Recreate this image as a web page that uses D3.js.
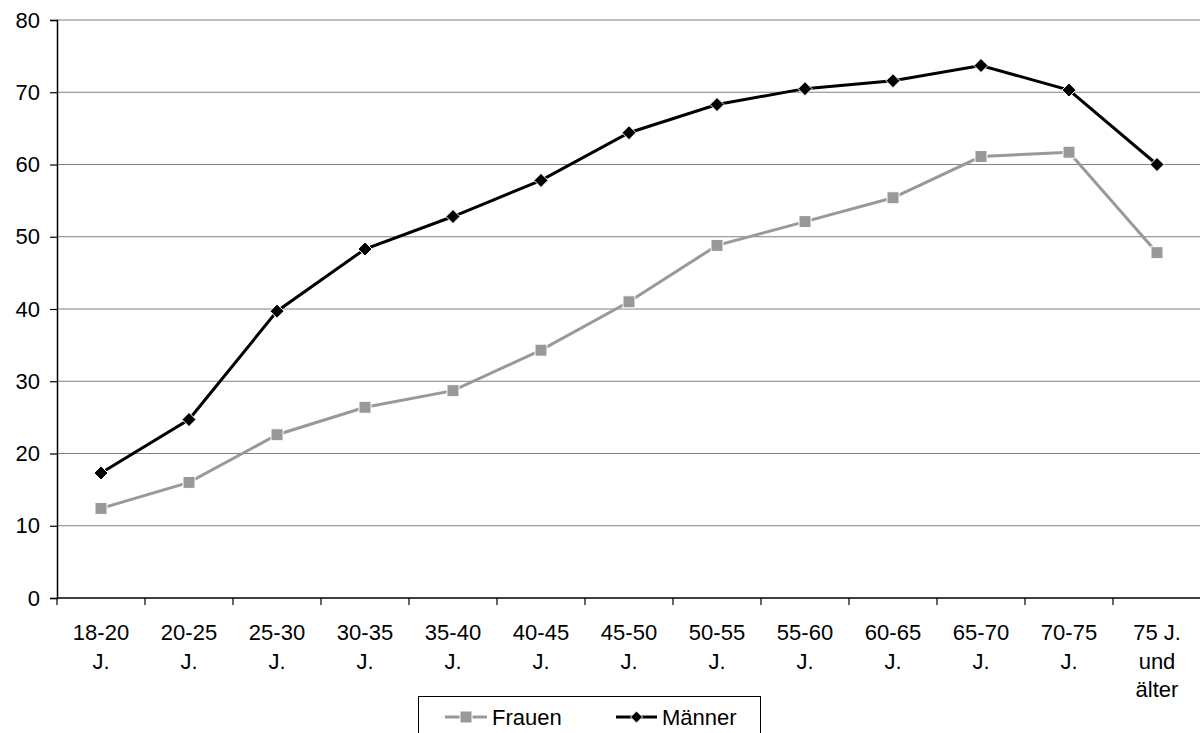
<!DOCTYPE html>
<html lang="de">
<head>
<meta charset="UTF-8">
<title>Chart</title>
<script src="https://d3js.org/d3.v7.min.js"></script>
<style>
  body { margin: 0; background: #fff; }
  text { font-family: "Liberation Sans", Arial, sans-serif; fill: #000; }
</style>
</head>
<body>
<script>
// Kategorien (Altersgruppen), mehrzeilige Beschriftung
var categories = ["18-20 J.", "20-25 J.", "25-30 J.", "30-35 J.", "35-40 J.", "40-45 J.",
                  "45-50 J.", "50-55 J.", "55-60 J.", "60-65 J.", "65-70 J.", "70-75 J.", "75 J. und älter"];
var labelLines = [["18-20","J."],["20-25","J."],["25-30","J."],["30-35","J."],["35-40","J."],["40-45","J."],
                  ["45-50","J."],["50-55","J."],["55-60","J."],["60-65","J."],["65-70","J."],["70-75","J."],["75 J.","und","älter"]];
var frauen = [12.4, 16.0, 22.6, 26.4, 28.7, 34.3, 41.0, 48.8, 52.1, 55.4, 61.1, 61.7, 47.8];
var maenner = [17.3, 24.7, 39.7, 48.3, 52.8, 57.8, 64.4, 68.3, 70.5, 71.6, 73.7, 70.3, 60.0];
var yTicks = [0, 10, 20, 30, 40, 50, 60, 70, 80];

var width = 1200, height = 733;
var mLeft = 57, mRight = 1201, mTop = 20, mBottom = 598;
var fs = "22px";

var svg = d3.select("body").append("svg").attr("width", width).attr("height", height);

var x = d3.scaleBand().domain(categories).range([mLeft, mRight]);
var y = d3.scaleLinear().domain([0, 80]).range([mBottom, mTop]);

// Gitterlinien
svg.append("g").selectAll("line").data(yTicks.filter(function(d){ return d > 0; }))
  .enter().append("line")
  .attr("x1", mLeft).attr("x2", mRight)
  .attr("y1", function(d){ return y(d); }).attr("y2", function(d){ return y(d); })
  .attr("stroke", "#808080").attr("stroke-width", 1.2);

// y-Achse
var yAxis = svg.append("g").attr("transform", "translate(" + mLeft + ",0)")
  .call(d3.axisLeft(y).tickValues(yTicks).tickSize(7).tickPadding(10));
yAxis.select(".domain").attr("stroke", "#000").attr("stroke-width", 1.5);
yAxis.selectAll(".tick line").attr("stroke", "#000").attr("stroke-width", 1.2);
yAxis.selectAll("text").attr("font-size", fs).attr("font-family", "Liberation Sans, Arial, sans-serif");

// x-Achse
var xg = svg.append("g");
xg.append("line").attr("x1", mLeft).attr("x2", mRight).attr("y1", mBottom).attr("y2", mBottom)
  .attr("stroke", "#000").attr("stroke-width", 1.5);
var boundaries = categories.map(function(c){ return x(c); });
xg.selectAll(".xt").data(boundaries).enter().append("line")
  .attr("x1", function(d){ return d; }).attr("x2", function(d){ return d; })
  .attr("y1", mBottom).attr("y2", mBottom + 7)
  .attr("stroke", "#000").attr("stroke-width", 1.2);

var labels = xg.selectAll(".xl").data(categories).enter().append("text")
  .attr("text-anchor", "middle")
  .attr("font-size", fs)
  .attr("x", function(d){ return x(d) + x.bandwidth() / 2; })
  .attr("y", mBottom + 42);
labels.each(function(d, i) {
  var t = d3.select(this);
  labelLines[i].forEach(function(line, j) {
    t.append("tspan").attr("x", x(d) + x.bandwidth() / 2).attr("dy", j === 0 ? 0 : 28.5).text(line);
  });
});

var cx = function(d, i){ return x(categories[i]) + x.bandwidth() / 2; };
var line = d3.line().x(function(d, i){ return cx(d, i); }).y(function(d){ return y(d); });

// Frauen
svg.append("path").datum(frauen).attr("d", line)
  .attr("fill", "none").attr("stroke", "#999999").attr("stroke-width", 3);
svg.append("g").selectAll("rect").data(frauen).enter().append("rect")
  .attr("x", function(d, i){ return cx(d, i) - 6; })
  .attr("y", function(d){ return y(d) - 6; })
  .attr("width", 12).attr("height", 12)
  .attr("fill", "#999999").attr("stroke", "#fff").attr("stroke-width", 1);

// Männer
svg.append("path").datum(maenner).attr("d", line)
  .attr("fill", "none").attr("stroke", "#000").attr("stroke-width", 3);
svg.append("g").selectAll("path").data(maenner).enter().append("path")
  .attr("d", "M0,-7 L7,0 L0,7 L-7,0 Z")
  .attr("transform", function(d, i){ return "translate(" + cx(d, i) + "," + y(d) + ")"; })
  .attr("fill", "#000").attr("stroke", "#fff").attr("stroke-width", 1);

// Legende
var lg = svg.append("g");
lg.append("rect").attr("x", 418.5).attr("y", 696.5).attr("width", 342).attr("height", 50)
  .attr("fill", "#fff").attr("stroke", "#000").attr("stroke-width", 1);
var ly = 717;
lg.append("line").attr("x1", 445).attr("x2", 487).attr("y1", ly).attr("y2", ly)
  .attr("stroke", "#999999").attr("stroke-width", 3);
lg.append("rect").attr("x", 460).attr("y", ly - 6).attr("width", 12).attr("height", 12)
  .attr("fill", "#999999").attr("stroke", "#fff");
lg.append("text").attr("x", 492).attr("y", ly + 8).attr("font-size", fs).text("Frauen");
lg.append("line").attr("x1", 616).attr("x2", 657).attr("y1", ly).attr("y2", ly)
  .attr("stroke", "#000").attr("stroke-width", 3);
lg.append("path").attr("d", "M0,-6 L6,0 L0,6 L-6,0 Z")
  .attr("transform", "translate(636.5," + ly + ")").attr("fill", "#000").attr("stroke", "#fff");
lg.append("text").attr("x", 662).attr("y", ly + 8).attr("font-size", fs).text("Männer");
</script>
</body>
</html>
